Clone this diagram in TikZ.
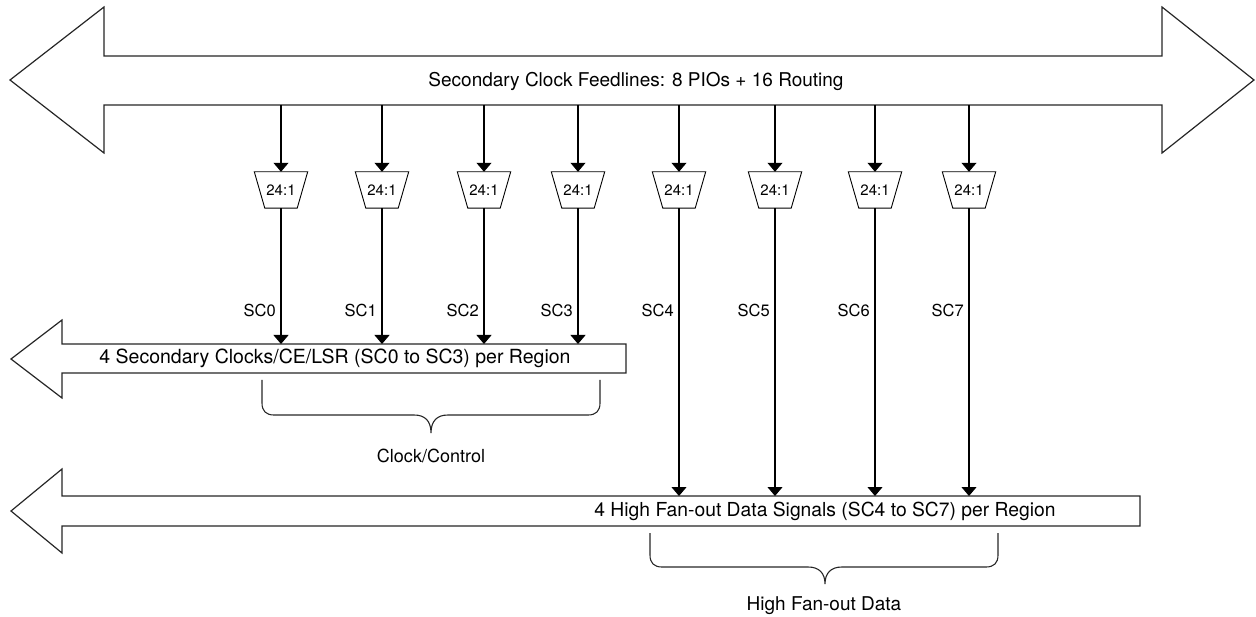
\documentclass[tikz,border=0pt]{standalone}
\usepackage{fontspec}
\setmainfont{TeX Gyre Heros}
\usetikzlibrary{arrows.meta}

\tikzset{
  bus/.style={draw=black!85, line width=1.2pt, line join=miter, fill=white},
  sig/.style={draw=black, line width=1.1pt, -{Triangle[width=15pt,length=9pt]}},
  mux/.style={minimum width=53pt, minimum height=36pt, inner sep=0pt,
    font=\fontsize{15}{17}\selectfont},
  muxshape/.style={draw=black, line width=0.9pt, line join=miter},
  buslbl/.style={font=\fontsize{19.3}{22}\selectfont, inner sep=0pt},
  sclbl/.style={font=\fontsize{16.5}{19}\selectfont, inner sep=0pt, anchor=east},
  brace/.style={draw=black!85, line width=1.1pt},
}

\begin{document}
\begin{tikzpicture}[x=1pt,y=-1pt]

    \useasboundingbox (0,0) rectangle (1256,617);

    \def\feedbus{(10,80) -- (104,7) -- (104,56) -- (1162,56) -- (1162,7) -- (1254,80)
        -- (1162,153) -- (1162,105) -- (104,105) -- (104,153) -- cycle}
    \def\ctlbus{(11,359) -- (62,320) -- (62,344) -- (626,344) -- (626,373) -- (62,373)
        -- (62,398) -- cycle}
    \def\databus{(11,511) -- (62,469) -- (62,496) -- (1140,496) -- (1140,526) -- (62,526)
        -- (62,553) -- cycle}

    %buses:
    \draw[bus] \feedbus;
    \draw[bus] \ctlbus;
    \draw[bus] \databus;

    \node[buslbl, font=\fontsize{19}{22}\selectfont] (feed) at (636,81) {Secondary Clock Feedlines: 8 PIOs + 16 Routing};
    \node[buslbl, font=\fontsize{19.5}{22}\selectfont] (ctl) at (335,358) {4 Secondary Clocks/CE/LSR (SC0 to SC3) per Region};
    \node[buslbl] (data) at (825,511) {4 High Fan-out Data Signals (SC4 to SC7) per Region};

    \coordinate (feedbot) at (0,105);
    \coordinate (ctltop) at (0,344);
    \coordinate (datatop) at (0,496);
    \coordinate (sclevel) at (0,310);

    %muxes and secondary clock lines:
    \foreach \x/\i in {281/0,382/1,484/2,578/3,679/4,775/5,875/6,969/7} {
        \node[mux] (mux\i) at (\x,190) {24:1};
        \draw[muxshape] (mux\i.north west) -- (mux\i.north east)
            -- ([xshift=-10.5pt]mux\i.south east) -- ([xshift=10.5pt]mux\i.south west) -- cycle;
        \draw[sig] (mux\i.north |- feedbot) -- (mux\i.north);
        \node[sclbl] (sc\i) at ([xshift=-5pt]mux\i.south |- sclevel) {SC\i};
    }
    \foreach \i in {0,...,3}
        \draw[sig] (mux\i.south) -- (mux\i.south |- ctltop);
    \foreach \i in {4,...,7}
        \draw[sig] (mux\i.south) -- (mux\i.south |- datatop);

    %braces:
    \draw[brace] (262,380) -- (262,403) .. controls (262,411) and (266,415) .. (274,415)
        -- (414,415) .. controls (425,415) and (431,421) .. (431,433)
        .. controls (431,421) and (437,415) .. (448,415) -- (588,415)
        .. controls (596,415) and (600,411) .. (600,403) -- (600,380);
    \draw[brace] (650,533) -- (650,555) .. controls (650,563) and (654,567) .. (662,567)
        -- (808,567) .. controls (819,567) and (825,573) .. (825,584)
        .. controls (825,573) and (831,567) .. (842,567) -- (986,567)
        .. controls (994,567) and (998,563) .. (998,555) -- (998,533);

    \node[buslbl, font=\fontsize{18}{20}\selectfont] (clkctl) at (431,456) {Clock/Control};
    \node[buslbl, font=\fontsize{19}{22}\selectfont] (hfdata) at (824,606) {High Fan-out Data};

\end{tikzpicture}
\end{document}
